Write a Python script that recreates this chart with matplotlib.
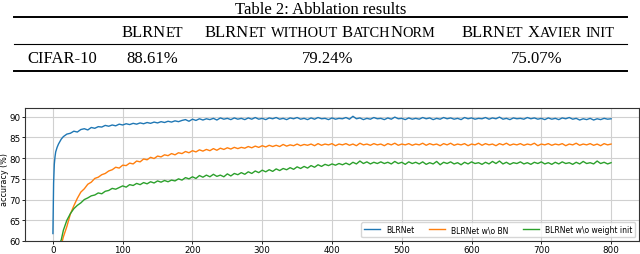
import numpy as np
import matplotlib
matplotlib.use('Agg')
import matplotlib.pyplot as plt
from matplotlib.lines import Line2D
from matplotlib.offsetbox import TextArea, HPacker, DrawingArea, AnnotationBbox

# ---- table data ----
table_title = 'Table 2: Abblation results'
col_headers = ['BLRNet', 'BLRNet without BatchNorm', 'BLRNet Xavier init']
row_label = 'CIFAR-10'
row_values = ['88.61%', '79.24%', '75.07%']

epochs = [0, 1, 2, 3, 4, 6, 8, 10, 12, 15] + list(range(20, 801, 5))

blrnet = [
    61.8, 74.0, 78.5, 80.3, 81.5, 82.6, 83.4, 84.0, 84.6, 85.2,
    85.8, 86.0, 86.5, 86.3, 86.9, 87.1, 86.8, 87.4, 87.2, 87.6,
    87.5, 87.9, 87.7, 88.0, 87.8, 88.2, 88.0, 88.3, 88.1, 88.4,
    88.2, 88.5, 88.3, 88.6, 88.4, 88.7, 88.5, 88.8, 88.6, 88.9,
    88.7, 89.0, 88.8, 89.1, 89.3, 88.9, 89.4, 89.1, 89.5, 89.2,
    89.5, 89.3, 89.6, 89.2, 89.7, 89.4, 89.6, 89.3, 89.7, 89.4,
    89.6, 89.3, 89.7, 89.4, 89.8, 89.4, 89.6, 89.3, 89.7, 89.5,
    89.8, 89.4, 89.6, 89.3, 89.7, 89.5, 89.8, 89.4, 89.6, 89.3,
    89.7, 89.4, 89.8, 89.5, 89.6, 89.3, 89.7, 89.4, 89.6, 89.5,
    89.8, 89.4, 90.1, 89.5, 89.7, 89.3, 89.6, 89.4, 89.8, 89.5,
    89.6, 89.3, 89.7, 89.4, 89.9, 89.5, 89.6, 89.3, 89.7, 89.4,
    89.6, 89.4, 89.8, 89.5, 89.7, 89.3, 89.6, 89.4, 89.8, 89.5,
    89.7, 89.4, 89.6, 89.3, 89.8, 89.5, 89.7, 89.4, 89.6, 89.5,
    89.8, 89.4, 89.7, 89.5, 89.9, 89.4, 89.6, 89.3, 89.7, 89.5,
    89.6, 89.4, 89.8, 89.5, 89.7, 89.4, 89.6, 89.3, 89.7, 89.4,
    89.6, 89.3, 89.7, 89.5, 89.8, 89.4, 89.6, 89.2, 89.5, 89.3,
    89.6, 89.2, 89.5, 89.3, 89.6, 89.4, 89.5,
]

no_bn = [
    30.0, 38.0, 43.0, 46.0, 48.5, 52.0, 55.0, 57.5, 59.0, 61.0,
    63.5, 66.5, 68.5, 70.3, 71.8, 72.6, 73.7, 74.2, 75.1, 75.4,
    76.0, 76.3, 76.9, 77.2, 77.8, 77.6, 78.3, 78.2, 78.8, 78.6,
    79.3, 79.1, 79.8, 79.6, 80.2, 79.9, 80.5, 80.3, 80.8, 80.6,
    81.1, 80.8, 81.3, 81.1, 81.6, 81.3, 81.8, 81.5, 82.0, 81.7,
    82.1, 81.8, 82.3, 81.9, 82.4, 82.1, 82.5, 82.2, 82.6, 82.3,
    82.6, 82.4, 82.8, 82.5, 82.9, 82.6, 83.0, 82.7, 83.1, 82.8,
    83.1, 82.8, 83.3, 82.9, 83.2, 83.0, 83.4, 83.0, 83.3, 83.1,
    83.4, 83.0, 83.5, 83.1, 83.4, 83.2, 83.5, 83.0, 83.4, 83.2,
    83.5, 83.1, 83.4, 83.0, 83.6, 83.2, 83.4, 83.1, 83.5, 83.2,
    83.4, 83.0, 83.5, 83.2, 83.6, 83.1, 83.4, 83.2, 83.5, 83.1,
    83.4, 83.2, 83.6, 83.1, 83.5, 83.2, 83.4, 83.0, 83.5, 83.2,
    83.6, 83.1, 83.4, 83.2, 83.5, 83.0, 83.4, 83.2, 83.6, 83.1,
    83.5, 83.2, 83.4, 83.0, 83.5, 83.2, 83.6, 83.1, 83.4, 83.2,
    83.5, 83.1, 83.4, 83.2, 83.6, 83.0, 83.4, 83.2, 83.5, 83.1,
    83.4, 83.2, 83.5, 83.0, 83.4, 83.2, 83.6, 83.1, 83.4, 83.2,
    83.5, 83.1, 83.4, 83.0, 83.5, 83.2, 83.4,
]

no_init = [
    40.0, 46.0, 49.5, 52.0, 54.0, 56.5, 58.3, 59.5, 60.3, 62.6,
    65.0, 66.6, 67.8, 68.6, 69.2, 70.0, 70.4, 70.9, 71.1, 71.6,
    71.4, 72.0, 72.2, 72.7, 72.5, 72.9, 73.3, 73.0, 73.6, 73.4,
    73.9, 73.6, 74.1, 73.8, 74.3, 74.0, 74.5, 74.2, 74.6, 74.3,
    74.7, 74.5, 75.0, 74.7, 75.3, 75.0, 75.5, 75.1, 75.8, 75.4,
    75.9, 75.5, 76.1, 75.6, 75.9, 75.5, 76.2, 75.7, 76.3, 76.0,
    76.5, 76.1, 76.7, 76.3, 76.9, 76.5, 77.1, 76.7, 77.2, 76.8,
    77.4, 77.0, 77.5, 77.2, 77.7, 77.3, 77.9, 77.5, 78.0, 77.6,
    78.2, 77.8, 78.4, 78.0, 78.5, 78.2, 78.6, 78.3, 78.7, 78.4,
    78.8, 78.4, 79.0, 78.6, 79.3, 78.7, 79.1, 78.6, 79.0, 78.7,
    79.1, 78.7, 79.0, 78.6, 79.2, 78.7, 79.0, 78.5, 79.1, 78.7,
    79.0, 78.6, 79.1, 78.5, 78.9, 78.6, 79.2, 78.4, 79.0, 78.7,
    79.1, 78.6, 78.9, 78.4, 79.0, 78.6, 79.1, 78.7, 78.9, 78.5,
    79.0, 78.6, 79.2, 78.7, 79.3, 78.6, 79.0, 78.5, 78.9, 78.7,
    79.1, 78.6, 78.9, 78.5, 79.0, 78.7, 79.1, 78.6, 78.9, 78.5,
    79.0, 78.6, 79.1, 78.7, 78.9, 78.5, 79.0, 78.6, 79.2, 78.7,
    78.9, 78.6, 79.3, 78.7, 79.0, 78.6, 78.9,
]

series_labels = ['BLRNet', 'BLRNet w\\o BN', 'BLRNet w\\o weight init']

SERIF = 'Liberation Serif'
TABLE_FS = 12
SMALL_RATIO = 0.86


def smallcaps(text, size=TABLE_FS):
    # build a row of text pieces that fakes LaTeX small caps
    parts = []
    run, run_small = '', None
    for ch in text + '\0':
        if ch == ' ' or ch == '\0':
            if run:
                fs = size * SMALL_RATIO if run_small else size
                parts.append(TextArea(run, textprops=dict(family=SERIF, fontsize=fs)))
                run, run_small = '', None
            if ch == ' ':
                parts.append(DrawingArea(0.25 * size, 0.1))
            continue
        small = ch.islower()
        if run and small != run_small:
            fs = size * SMALL_RATIO if run_small else size
            parts.append(TextArea(run, textprops=dict(family=SERIF, fontsize=fs)))
            run = ''
        run += ch.upper()
        run_small = small
    return HPacker(children=parts, align='baseline', pad=0, sep=0)


def px(x, y):
    return x / 640, 1 - y / 255


def draw_table(fig):
    fig.text(*px(321, 14), table_title, family=SERIF, fontsize=TABLE_FS,
             ha='center', va='baseline')

    for y, lw in [(18, 1.4), (44.5, 0.8), (71.5, 1.4)]:
        x0, y0 = px(14, y)
        x1, _ = px(627, y)
        fig.add_artist(Line2D([x0, x1], [y0, y0], color='black', lw=lw,
                              transform=fig.transFigure))

    header_x = [152, 320, 538]
    value_x = [152, 328, 537]
    for hx, name in zip(header_x, col_headers):
        ab = AnnotationBbox(smallcaps(name), px(hx, 33), xycoords='figure fraction',
                            box_alignment=(0.5, 0.5), frameon=False, pad=0)
        fig.add_artist(ab)

    fig.text(*px(62, 63), row_label, family=SERIF, fontsize=TABLE_FS,
             ha='center', va='baseline')
    for vx, val in zip(value_x, row_values):
        fig.text(*px(vx, 63), val, family=SERIF, fontsize=TABLE_FS,
                 ha='center', va='baseline')


def draw_chart(fig):
    ax = fig.add_axes([25 / 640, 1 - 242 / 255, 614 / 640, 133 / 255])
    for vals, lab in zip([blrnet, no_bn, no_init], series_labels):
        ax.plot(epochs, vals, lw=1.0, label=lab)

    ax.set_xlim(-40, 840)
    ax.set_ylim(60, 92.1)
    ax.set_xticks(np.arange(0, 801, 100))
    ax.set_yticks(np.arange(60, 91, 5))
    ax.grid(True, color='#d0d0d0', lw=0.8)
    ax.set_axisbelow(True)
    ax.tick_params(labelsize=6.3, length=2, pad=1.2, width=0.6)
    for sp in ax.spines.values():
        sp.set_linewidth(0.8)
        sp.set_color('#333333')
    ax.set_ylabel('accuracy (%)', fontsize=5.8, va='center')
    ax.yaxis.set_label_coords(-20 / 614, 0.47)
    ax.legend(loc='lower right', ncol=3, fontsize=5.5, frameon=True)


def main():
    fig = plt.figure(figsize=(6.4, 2.55), dpi=100)
    draw_table(fig)
    draw_chart(fig)
    fig.savefig('out.png', dpi=100)


if __name__ == '__main__':
    main()
